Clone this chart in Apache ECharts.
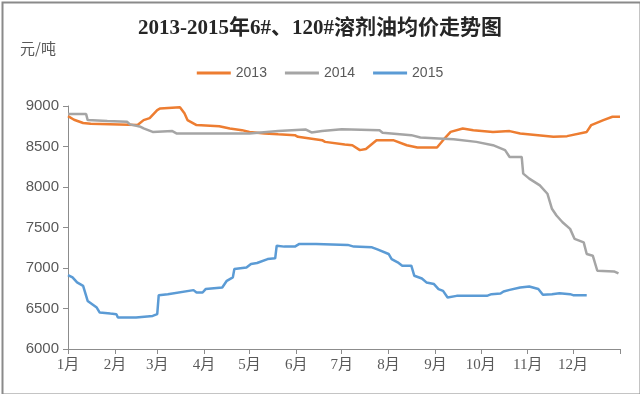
<!DOCTYPE html>
<html><head><meta charset="utf-8">
<script src="https://cdn.jsdelivr.net/npm/echarts@6/dist/echarts.min.js"></script>
<style>html,body{margin:0;padding:0;background:#fff}#c{width:640px;height:394px}</style>
</head><body><div id="c"></div>
<script>
// Month tick labels and the day-of-year at which each month starts
const monthLabels = ['1月','2月','3月','4月','5月','6月','7月','8月','9月','10月','11月','12月'];
const monthStartDays = [0,31,59,90,120,151,181,212,243,273,304,334];
const yearEndDay = 365;

// 2013 series: day-of-year and price (元/吨)
const days2013 = [0,4,10,15,40,46,50,54,59,61,74,77,79,85,100,107,115,120,130,139,150,152,168,170,183,188,193,197,204,215,224,231,244,248,253,261,268,281,292,299,321,330,343,346,354,360,365];
const vals2013 = [8875,8830,8790,8780,8770,8765,8826,8850,8950,8970,8984,8910,8826,8765,8750,8723,8702,8680,8660,8650,8640,8620,8578,8557,8525,8516,8455,8470,8578,8578,8516,8488,8488,8578,8680,8723,8700,8680,8690,8660,8620,8628,8680,8765,8826,8867,8867];

// 2014 series
const days2014 = [0,12,13,26,39,41,48,50,56,69,72,120,139,157,161,168,181,206,208,227,233,245,255,270,281,289,292,300,301,305,312,317,320,323,327,332,335,341,343,347,350,361,364];
const vals2014 = [8900,8900,8826,8814,8805,8773,8743,8723,8680,8690,8660,8660,8690,8711,8673,8690,8714,8700,8670,8640,8612,8600,8590,8557,8516,8455,8371,8371,8165,8103,8020,7917,7731,7648,7565,7483,7359,7317,7173,7152,6966,6958,6933];

// 2015 series
const days2015 = [0,3,6,10,13,16,19,21,28,32,33,45,56,59,60,66,67,83,85,89,91,102,105,109,110,118,121,125,132,137,138,143,150,153,164,185,189,201,205,212,214,218,221,227,229,234,237,242,245,248,251,257,277,280,286,288,292,299,305,311,314,320,325,332,334,343];
const vals2015 = [6913,6884,6822,6780,6594,6553,6512,6450,6437,6430,6388,6388,6408,6430,6665,6677,6698,6727,6698,6698,6740,6760,6842,6884,6987,7007,7050,7062,7110,7120,7276,7264,7264,7297,7297,7285,7264,7255,7227,7173,7110,7070,7028,7028,6904,6871,6822,6802,6740,6718,6636,6656,6656,6677,6685,6710,6730,6760,6772,6740,6669,6677,6689,6677,6665,6665];

const categories = [];
for (let d = 0; d <= yearEndDay; d++) categories.push(String(d));
const pair = (ds, vs) => ds.map((d, i) => [d, vs[i]]);
const tickSet = new Set(monthStartDays.concat([yearEndDay]));

const chart = echarts.init(document.getElementById('c'), null, {renderer: 'canvas'});
const axisColor = '#8c8c8c';
const txt = '#595959';
const mk = (name, color, ds, vs) => ({
  name, type: 'line', data: pair(ds, vs), showSymbol: false, symbol: 'none',
  lineStyle: {color, width: 2.5}, itemStyle: {color}, animation: false
});
chart.setOption({
  animation: false,
  backgroundColor: '#fff',
  title: {
    text: '2013-2015年6#、120#溶剂油均价走势图', left: 'center', top: 13,
    textStyle: {fontFamily: '"Liberation Serif","Noto Sans CJK SC",serif', fontSize: 21, fontWeight: 'bold', color: '#262626'}
  },
  legend: {
    top: 61, left: 'center', itemWidth: 34, itemHeight: 3, itemGap: 18, icon: 'rect',
    textStyle: {fontFamily: '"Liberation Sans","Noto Sans CJK SC",sans-serif', fontSize: 14, color: txt},
    data: ['2013','2014','2015']
  },
  grid: {left: 68, right: 20, top: 106, bottom: 45, containLabel: false},
  xAxis: {
    type: 'category', data: categories, boundaryGap: false,
    axisLine: {lineStyle: {color: axisColor, width: 1}},
    axisTick: {show: true, length: 5, lineStyle: {color: axisColor}, interval: (i) => tickSet.has(i)},
    axisLabel: {
      interval: (i) => monthStartDays.includes(i),
      formatter: (v, i) => { const k = monthStartDays.indexOf(Number(v)); return k >= 0 ? monthLabels[k] : ''; },
      fontFamily: '"Liberation Serif","Noto Sans CJK SC",serif', fontSize: 15, color: txt, margin: 9
    },
    splitLine: {show: false}
  },
  yAxis: {
    type: 'value', min: 6000, max: 9000, interval: 500,
    name: '元/吨', nameLocation: 'end', nameGap: 50,
    nameTextStyle: {fontFamily: '"Noto Sans CJK SC",sans-serif', fontSize: 15, color: txt, align: 'left', padding: [0, 0, 0, -48]},
    axisLine: {show: true, lineStyle: {color: axisColor}},
    axisTick: {show: true, length: 5, lineStyle: {color: axisColor}},
    axisLabel: {fontFamily: '"Liberation Sans",sans-serif', fontSize: 15, color: txt, margin: 9, formatter: (v) => String(v)},
    splitLine: {show: false}
  },
  graphic: [{
    type: 'rect', left: 0, top: 0, z: 100, silent: true,
    shape: {x: 1, y: 1, width: 638, height: 392},
    style: {fill: 'none', stroke: '#8a8a8a', lineWidth: 2}
  }],
  series: [
    mk('2013', '#ED7D31', days2013, vals2013),
    mk('2014', '#A5A5A5', days2014, vals2014),
    mk('2015', '#5B9BD5', days2015, vals2015)
  ]
});
</script></body></html>
